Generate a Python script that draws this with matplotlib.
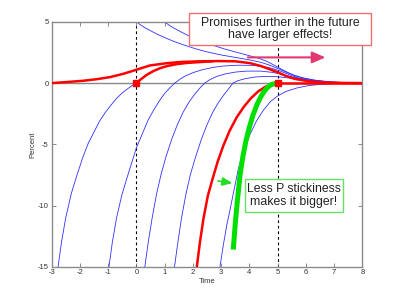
import matplotlib
matplotlib.use("Agg")
import matplotlib.pyplot as plt
from matplotlib.patches import Rectangle

plt.rcParams['font.family'] = ['Liberation Sans', 'DejaVu Sans']
plt.rcParams['axes.unicode_minus'] = False

# ---- data ----
x_ticks = [-3, -2, -1, 0, 1, 2, 3, 4, 5, 6, 7, 8]
y_ticks = [-15, -10, -5, 0, 5]

# blue trajectories
u1_t = [0, 0.15, 0.3, 0.5, 0.75, 1.0, 1.3, 1.7, 2.1, 2.5, 3.0, 3.5, 4.0, 4.4, 4.7, 5.0, 5.3, 5.6, 5.9, 6.3, 6.8, 7.3, 8.0]
u1_v = [5, 4.75, 4.53, 4.28, 3.98, 3.72, 3.43, 3.1, 2.8, 2.55, 2.3, 2.1, 1.9, 1.7, 1.48, 1.2, 0.9, 0.62, 0.42, 0.24, 0.11, 0.04, 0]
u2_t = [1.0, 1.15, 1.3, 1.5, 1.75, 2.0, 2.3, 2.7, 3.1, 3.5, 3.9, 4.3, 4.6, 4.85, 5.1, 5.35, 5.6, 5.9, 6.3, 6.8, 7.3, 8.0]
u2_v = [5, 4.75, 4.53, 4.28, 3.98, 3.72, 3.43, 3.1, 2.8, 2.55, 2.3, 2.05, 1.8, 1.5, 1.18, 0.88, 0.62, 0.42, 0.24, 0.11, 0.04, 0]
l1_t = [-2.77, -2.65, -2.5, -2.3, -2.1, -1.9, -1.7, -1.5, -1.3, -1.1, -0.9, -0.7, -0.5, -0.3, -0.15, 0.0]
l1_v = [-15, -13, -11, -9, -7.5, -6.1, -4.9, -4.0, -3.1, -2.4, -1.8, -1.25, -0.8, -0.45, -0.2, 0]
l2_t = [-0.97, -0.85, -0.7, -0.52, -0.34, -0.15, 0.0, 0.2, 0.4, 0.6, 0.8, 1.0, 1.2, 1.36, 1.55, 1.75, 2.0, 2.3, 2.7,
        3.1, 3.6, 4.1, 4.5, 4.8, 5.1, 5.4, 5.7, 6.0, 6.4, 6.9, 7.5, 8.0]
l2_v = [-15, -13, -11, -9.2, -7.8, -6.4, -5.3, -4.2, -3.1, -2.25, -1.5, -0.85, -0.35, 0, 0.33, 0.6, 0.85, 1.07, 1.28,
        1.4, 1.46, 1.45, 1.35, 1.2, 0.98, 0.7, 0.45, 0.29, 0.15, 0.06, 0.02, 0]
l3_t = [0.30, 0.42, 0.56, 0.72, 0.88, 1.05, 1.25, 1.45, 1.65, 1.85, 2.05, 2.25, 2.42, 2.6, 2.85, 3.15, 3.5, 3.9,
        4.4, 4.8, 5.1, 5.4, 5.7, 6.0, 6.4, 6.9, 7.5, 8.0]
l3_v = [-15, -13, -11, -9, -7.4, -6, -4.6, -3.4, -2.4, -1.6, -0.95, -0.4, 0, 0.28, 0.55, 0.75, 0.9, 0.98,
        0.98, 0.88, 0.75, 0.57, 0.4, 0.27, 0.14, 0.06, 0.02, 0]
l4_t = [1.35, 1.47, 1.6, 1.76, 1.92, 2.1, 2.3, 2.5, 2.7, 2.9, 3.1, 3.27, 3.42, 3.6, 3.85, 4.2, 4.6, 5.0, 5.4, 5.8,
        6.2, 6.7, 7.3, 8.0]
l4_v = [-15, -13, -11, -9, -7.4, -6.0, -4.6, -3.4, -2.4, -1.6, -0.95, -0.45, 0, 0.2, 0.36, 0.5, 0.55, 0.52, 0.42, 0.3,
        0.19, 0.09, 0.03, 0]
l5_t = [2.96, 3.08, 3.2, 3.32, 3.45, 3.61, 3.8, 4.02, 4.25, 4.5, 4.75, 5.0, 5.3, 5.68, 6.1, 6.6, 7.2, 8.0]
l5_v = [-15, -13.2, -11.6, -10.3, -8.8, -7.0, -5.5, -4.2, -3.1, -2.2, -1.5, -1.05, -0.68, -0.4, -0.2, -0.09, -0.03, 0]

# red paths
r1_t = [-3, -2.5, -1.88, -1.4, -0.93, -0.46, 0, 0.48, 1.08, 1.6, 2.25, 2.9, 3.5, 4.02, 4.4, 4.7, 5.0, 5.3, 5.6,
        6.15, 6.7, 7.3, 8.0]
r1_v = [0, 0.08, 0.19, 0.32, 0.49, 0.76, 1.09, 1.44, 1.63, 1.73, 1.78, 1.8, 1.78, 1.63, 1.4, 1.15, 0.88, 0.58, 0.35,
        0.13, 0.05, 0.015, 0]
r2_t = [0, 0.18, 0.37, 0.6, 0.84, 1.1, 1.43, 1.8, 2.25, 2.7]
r2_v = [0, 0.35, 0.68, 0.98, 1.22, 1.4, 1.55, 1.65, 1.72, 1.78]
r3_t = [2.14, 2.25, 2.38, 2.53, 2.7, 2.88, 3.08, 3.3, 3.55, 3.8, 4.05, 4.3, 4.55, 4.8, 5.0]
r3_v = [-15, -13, -11, -9.2, -7.8, -6.4, -5.1, -3.9, -2.8, -1.95, -1.25, -0.7, -0.32, -0.08, 0]
r4_t = [5.0, 8.0]
r4_v = [0, 0]
sq_t = [0, 5]
sq_v = [0, 0]

# green path
g_t = [3.43, 3.5, 3.58, 3.67, 3.77, 3.88, 4.0, 4.13, 4.27, 4.42, 4.58, 4.75, 4.95]
g_v = [-13.6, -11.5, -9.5, -7.5, -6.0, -4.7, -3.6, -2.6, -1.75, -1.05, -0.5, -0.15, 0]

box1_text = "Promises further in the future\nhave larger effects!"
box2_text = "Less P stickiness\nmakes it bigger!"

# ---- figure ----
fig = plt.figure(figsize=(4, 3), dpi=100)
ax = fig.add_axes([0.129, 0.111, 0.777, 0.816])
ax.set_xlim(-3, 8)
ax.set_ylim(-15, 5)

ax.axhline(0, color='#888888', lw=1.0, zorder=1)
for xv in [0, 5]:
    ax.plot([xv, xv], [-15, 5], color='black', lw=0.8, ls=(0, (2.5, 2.5)), zorder=1)

blue = '#3030ff'
for t, v in [(u1_t, u1_v), (u2_t, u2_v), (l1_t, l1_v), (l2_t, l2_v),
             (l3_t, l3_v), (l4_t, l4_v), (l5_t, l5_v)]:
    ax.plot(t, v, color=blue, lw=0.6, zorder=2)

red = '#ff0000'
for t, v in [(r1_t, r1_v), (r2_t, r2_v), (r3_t, r3_v), (r4_t, r4_v)]:
    ax.plot(t, v, color=red, lw=1.8, zorder=3, solid_capstyle='round', solid_joinstyle='round')
ax.plot(sq_t, sq_v, ls='none', marker='s', color=red, ms=4.5, zorder=4)

ax.plot(g_t, g_v, color='#00e000', lw=3.6, zorder=3, solid_capstyle='butt', solid_joinstyle='round')

ax.set_xticks(x_ticks)
ax.set_yticks(y_ticks)
ax.set_xticklabels([str(v) for v in x_ticks])
ax.set_yticklabels([str(v) for v in y_ticks])
ax.tick_params(direction='in', length=3, width=0.6, color='#777777',
               labelsize=5.5, labelcolor='#333333', top=True, right=True, pad=2)
for s in ax.spines.values():
    s.set_color('#8a8a8a')
    s.set_linewidth(1.0)
ax.set_xlabel('Time', fontsize=5.5, color='#333333', labelpad=1)
ax.set_ylabel('Percent', fontsize=5.5, color='#333333', labelpad=1)

# pink arrow
ax.annotate('', xy=(6.79, 2.1), xytext=(3.85, 2.1),
            arrowprops=dict(arrowstyle='-|>,head_length=0.8,head_width=0.35',
                            color='#e23a70', lw=1.5), zorder=6)
# green arrow
ax.annotate('', xy=(3.5, -8.2), xytext=(2.79, -7.96),
            arrowprops=dict(arrowstyle='-|>,head_length=0.6,head_width=0.25',
                            color='#22dd22', lw=1.2), zorder=6)

# boxes in figure pixel coords
def fig_box(x0, y0, x1, y1, ec, text):
    W, H = 400.0, 300.0
    r = Rectangle((x0 / W, 1 - y1 / H), (x1 - x0) / W, (y1 - y0) / H,
                  transform=fig.transFigure, facecolor='white', edgecolor=ec,
                  lw=1.0, zorder=10)
    fig.patches.append(r)
    fig.text((x0 + x1) / 2 / W, 1 - (y0 + y1) / 2 / H, text, ha='center', va='center',
             fontsize=8.8, color='#222222', linespacing=1.1, zorder=11)

fig_box(189, 13, 371, 45, '#f07070', box1_text)
fig_box(245, 179, 343, 212, '#66e066', box2_text)

fig.savefig('out.png', dpi=100)
